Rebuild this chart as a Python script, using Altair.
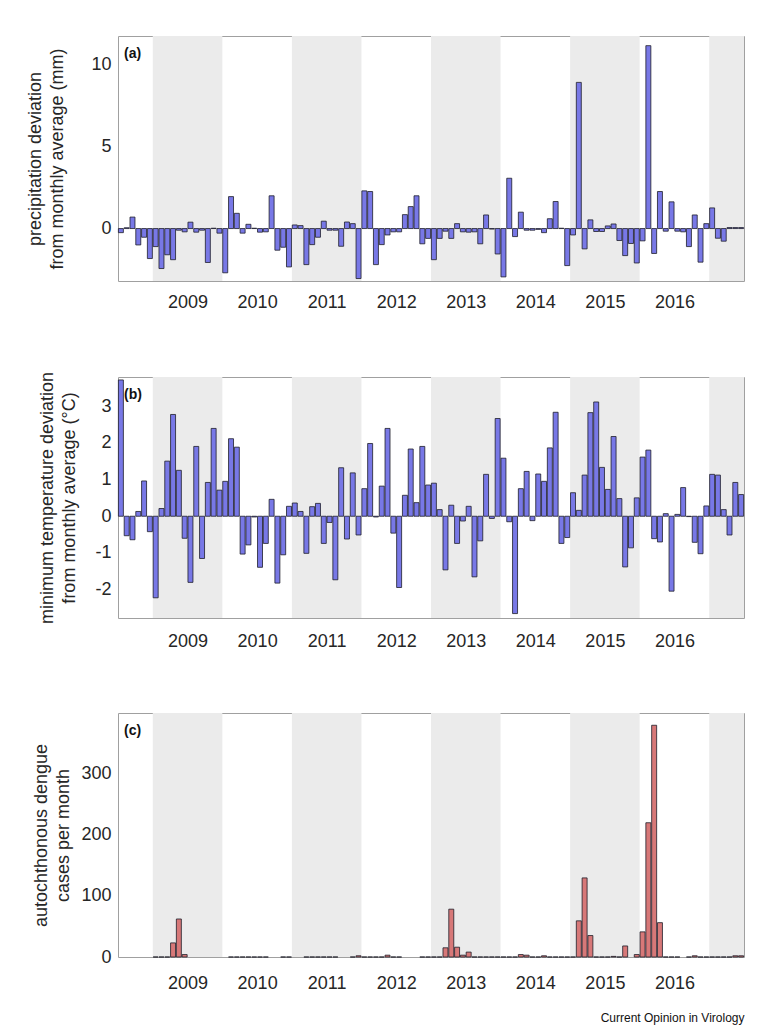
import altair as alt
import pandas as pd

# Monthly series, July 2008 .. June 2017 (108 months)
precip = [-0.25, 0.05, 0.7, -1.0, -0.53, -1.83,
          -1.1, -2.44, -1.6, -1.9, -0.1, -0.2, 0.39, -0.22, -0.1, -2.07, 0.02, -0.28,
          -2.7, 1.95, 0.93, -0.28, 0.26, 0.02, -0.22, -0.2, 2.0, -1.32, -1.14, -2.34,
          0.22, 0.18, -2.2, -0.98, -0.53, 0.45, -0.1, -0.1, -1.08, 0.4, 0.3, -3.05,
          2.3, 2.26, -2.2, -0.98, -0.39, -0.2, -0.2, 0.85, 1.34, 2.0, -0.93, -0.6,
          -1.9, -0.6, -0.16, -0.6, 0.3, -0.2, -0.22, -0.2, -0.93, 0.83, -0.03, -1.55,
          -2.95, 3.07, -0.49, 1.0, -0.1, -0.1, -0.05, -0.25, 0.6, 1.65, 0.02, -2.26,
          -0.39, 8.92, -1.24, 0.53, -0.18, -0.18, 0.16, 0.28, -0.73, -1.65, -0.91, -2.1,
          -0.75, 11.16, -1.52, 2.26, -0.16, 1.63, -0.16, -0.2, -1.1, 0.83, -2.05, 0.3,
          1.26, -0.59, -0.77, 0.06, 0.06, 0.06]

tmin = [3.71, -0.53, -0.64, 0.13, 0.96, -0.42,
        -2.22, 0.21, 1.5, 2.77, 1.25, -0.6, -1.8, 1.9, -1.15, 0.92, 2.39, 0.71,
        0.95, 2.11, 1.88, -1.03, -0.78, -0.02, -1.39, -0.74, 0.46, -1.82, -1.05, 0.27,
        0.36, 0.13, -1.01, 0.26, 0.35, -0.74, -0.17, -1.73, 1.32, -0.62, 1.18, -0.51,
        0.75, 1.98, -0.02, 0.82, 2.39, -0.46, -1.94, 0.57, 1.83, 0.37, 1.9, 0.85,
        0.9, 0.18, -1.46, 0.3, -0.74, -0.13, 0.27, -1.65, -0.67, 1.14, -0.06, 2.66,
        1.58, -0.15, -2.65, 0.75, 1.22, -0.12, 1.15, 0.95, 1.86, 2.83, -0.74, -0.58,
        0.64, 0.16, 1.12, 2.82, 3.11, 1.33, 0.73, 2.17, 0.48, -1.38, -0.86, 0.5,
        1.61, 1.8, -0.61, -0.7, 0.07, -2.04, 0.05, 0.78, -0.01, -0.71, -1.02, 0.28,
        1.14, 1.12, 0.18, -0.51, 0.92, 0.59]

dengue = [None, None, None, None, None, None,
          0, 0, 0, 23, 62, 4, None, None, None, None, None, None,
          None, 0, 0, 0, 0, 0, 0, 0, None, None, 0, 0,
          None, None, 0, 0, 0, 0, 0, 0, None, None, 0, 2,
          0, 0, 0, 0, 3, 0, 0, None, None, None, 0, 0,
          0, 0, 15, 78, 16, 3, 8, 0, 0, 0, 0, 0,
          0, 0, 0, 4, 3, 0, 0, 2, 0, 0, 0, 0,
          0, 59, 129, 35, 0, 0, 0, 1, 0, 18, None, 4,
          41, 219, 378, 56, 0, 0, 0, None, 0, 2, 0, 0,
          0, 0, 0, 0, 2, 2]

shade_years = [2009, 2011, 2013, 2015, 2017]
label_years = [2009, 2010, 2011, 2012, 2013, 2014, 2015, 2016]

N = len(precip)
df = pd.DataFrame({"m": list(range(N)), "precip": precip, "tmin": tmin, "dengue": dengue})
bands = pd.DataFrame({"year": shade_years})
bands["s"] = (bands["year"] - 2008) * 12 - 6
bands["e"] = (bands["s"] + 12).clip(upper=N)

FONT = "Liberation Sans"
TXT = "#262626"
xs = alt.Scale(domain=[0, N], nice=False, zero=False)
tick_pos = [(y - 2008) * 12 for y in label_years]


def xaxis(pad):
    return alt.Axis(values=tick_pos, labelExpr="'' + (2008 + datum.value/12)",
                    title=None, ticks=False, domain=False, grid=False,
                    labelFontSize=18, labelFont=FONT, labelColor=TXT,
                    labelPadding=pad, labelFlush=False)


def panel(field, domain, ticks, color, height, tag, title, xpad, title_x):
    yaxis = alt.Axis(values=ticks, title=title, ticks=False, domain=False, grid=False,
                     labelFontSize=18, labelFont=FONT, labelColor=TXT, labelPadding=7,
                     labelExpr="datum.value < 0 ? '-' + abs(datum.value) : '' + datum.value",
                     titleFontSize=18, titleFont=FONT, titleFontWeight="normal",
                     titleColor=TXT, titleX=title_x, titleLineHeight=22)
    band = alt.Chart(bands).mark_rect(color="#ebebeb").encode(
        x=alt.X("s:Q", scale=xs, axis=xaxis(xpad)),
        x2="e:Q",
        y=alt.value(0), y2=alt.value(height))
    bars = alt.Chart(df).transform_filter(f"isValid(datum.{field})").transform_calculate(
        x0="datum.m + 0.07", x1="datum.m + 0.93").mark_rect(
        fill=color, stroke="#1e1e2a", strokeWidth=0.8).encode(
        x=alt.X("x0:Q", scale=xs, axis=xaxis(xpad)),
        x2="x1:Q",
        y=alt.Y(f"{field}:Q", scale=alt.Scale(domain=domain, nice=False, zero=False), axis=yaxis),
        y2=alt.datum(0))
    lab = alt.Chart(pd.DataFrame({"t": [tag]})).mark_text(
        align="left", baseline="middle", fontWeight="bold", fontSize=14, font=FONT,
        color="#111").encode(x=alt.value(6), y=alt.value(18), text="t:N")
    return alt.layer(band, bars, lab).properties(width=626, height=height)


pa = panel("precip", [-3.2, 11.75], [0, 5, 10], "#7878e6", 245, "(a)",
           ["precipitation deviation", "from monthly average (mm)"], 12, -74)
pb = panel("tmin", [-2.77, 3.79], [-2, -1, 0, 1, 2, 3], "#7878e6", 241, "(b)",
           ["minimum temperature deviation", "from monthly average (°C)"], 14, -62)
pc = panel("dengue", [0, 398], [0, 100, 200, 300], "#d77878", 244, "(c)",
           ["autochthonous dengue", "cases per month"], 17, -68)

chart = alt.vconcat(alt.vconcat(pa, pb, spacing=58), pc, spacing=61).properties(
    padding={"top": 27, "left": 17, "right": 5, "bottom": 5},
    title=alt.TitleParams("Current Opinion in Virology", orient="bottom", anchor="end",
                          fontSize=12, fontWeight="normal", font=FONT, color="#111", offset=20)
).configure_view(stroke="#a0a0a0", strokeWidth=1)

chart.save("out.html", embed_options={"renderer": "svg", "actions": False})
